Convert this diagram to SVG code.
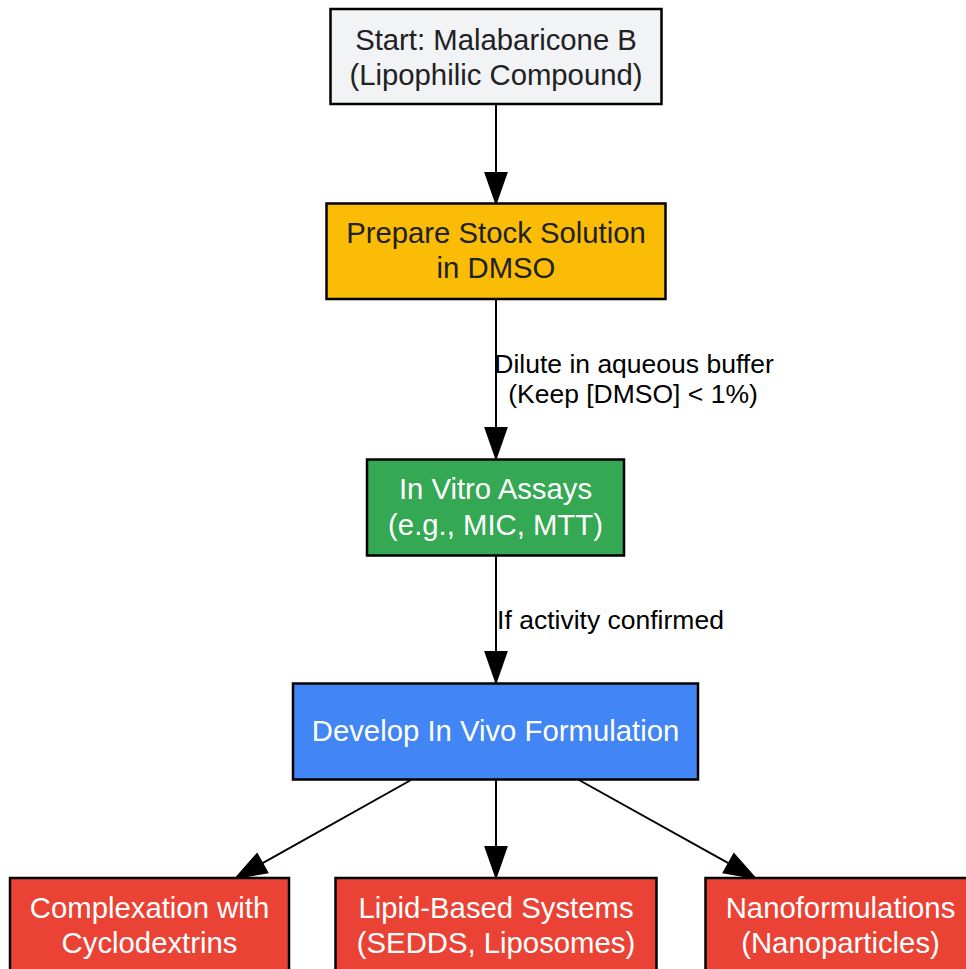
<svg xmlns="http://www.w3.org/2000/svg" width="966" height="969" viewBox="0 0 966 969">
<style>
.box{stroke:#000;stroke-width:2.5}
.t{font-family:"Liberation Sans",Arial,sans-serif;font-size:29.3px;text-anchor:middle}
.dk{fill:#202124}
.wt{fill:#ffffff}
.el{font-family:"Liberation Sans",Arial,sans-serif;font-size:26.5px;text-anchor:middle;fill:#000}
.edge{stroke:#000;stroke-width:2;fill:none}
</style>
<defs>
<marker id="ah" markerUnits="userSpaceOnUse" markerWidth="34" markerHeight="26" refX="0" refY="11" orient="auto" viewBox="-1 0 34 22" overflow="visible">
<path d="M0,0.5 L30,11 L0,21.5 Z" fill="#000" stroke="#000" stroke-width="2" stroke-linejoin="miter"/>
</marker>
</defs>
<g id="edges">
<line class="edge" x1="496" y1="104" x2="496" y2="173" marker-end="url(#ah)"/>
<line class="edge" x1="496" y1="299" x2="496" y2="428" marker-end="url(#ah)"/>
<line class="edge" x1="496" y1="556" x2="496" y2="652" marker-end="url(#ah)"/>
<line class="edge" x1="411" y1="780" x2="262.2" y2="863.3" marker-end="url(#ah)"/>
<line class="edge" x1="496" y1="780" x2="496" y2="847" marker-end="url(#ah)"/>
<line class="edge" x1="579" y1="780" x2="728.8" y2="863.4" marker-end="url(#ah)"/>
<text class="el" x="634" y="373">Dilute in aqueous buffer</text>
<text class="el" x="633" y="403">(Keep [DMSO] &lt; 1%)</text>
<text class="el" x="610.5" y="629">If activity confirmed</text>
</g>
<g id="start">
<rect class="box" x="330.5" y="9" width="331" height="95" fill="#f1f3f4"/>
<text class="t dk" x="496" y="49.5">Start: Malabaricone B</text>
<text class="t dk" x="496" y="84.5">(Lipophilic Compound)</text>
</g>
<g id="stock">
<rect class="box" x="326.5" y="203.5" width="339" height="95.5" fill="#fbbc05"/>
<text class="t dk" x="496" y="243">Prepare Stock Solution</text>
<text class="t dk" x="496" y="278">in DMSO</text>
</g>
<g id="invitro">
<rect class="box" x="367" y="459.5" width="257" height="96" fill="#34a853"/>
<text class="t wt" x="495.5" y="499">In Vitro Assays</text>
<text class="t wt" x="495.5" y="535">(e.g., MIC, MTT)</text>
</g>
<g id="invivo">
<rect class="box" x="293" y="683.5" width="405" height="96" fill="#4285f4"/>
<text class="t wt" x="495.5" y="741">Develop In Vivo Formulation</text>
</g>
<g id="cyclo">
<rect class="box" x="10" y="878" width="279" height="96" fill="#ea4335"/>
<text class="t wt" x="149.5" y="918">Complexation with</text>
<text class="t wt" x="149.5" y="953">Cyclodextrins</text>
</g>
<g id="lipid">
<rect class="box" x="335.5" y="878" width="321" height="96" fill="#ea4335"/>
<text class="t wt" x="496" y="918">Lipid-Based Systems</text>
<text class="t wt" x="496" y="953">(SEDDS, Liposomes)</text>
</g>
<g id="nano">
<rect class="box" x="705.5" y="878" width="270" height="96" fill="#ea4335"/>
<text class="t wt" x="840.5" y="918">Nanoformulations</text>
<text class="t wt" x="840.5" y="953">(Nanoparticles)</text>
</g>
</svg>
